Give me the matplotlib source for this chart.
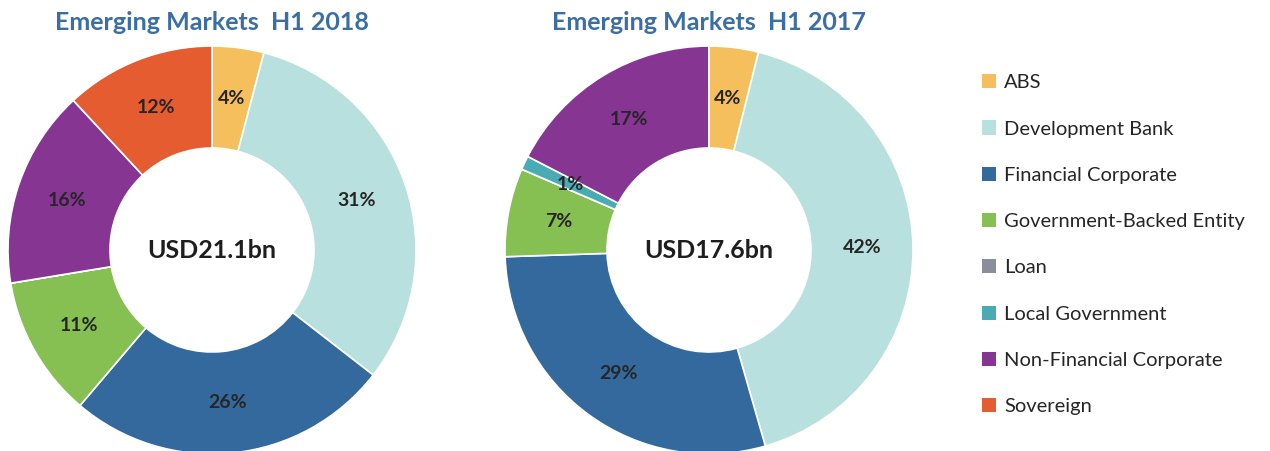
import matplotlib
matplotlib.use('Agg')
import matplotlib.pyplot as plt
from matplotlib.patches import Patch

plt.rcParams['font.family'] = ['Lato', 'DejaVu Sans']

# sectors and shares (%)
sectors = ['ABS', 'Development Bank', 'Financial Corporate', 'Government-Backed Entity',
           'Loan', 'Local Government', 'Non-Financial Corporate', 'Sovereign']
colors = ['#f6bf5d', '#b8e0de', '#34699e', '#86bf52', '#8a8d9c', '#4aabb4', '#863592', '#e55c30']
share_2018 = [4.1, 31.4, 25.7, 11.2, 0, 0, 15.7, 11.9]
share_2017 = [3.9, 41.6, 28.9, 7.0, 0, 1.1, 17.4, 0]
totals = ['USD21.1bn', 'USD17.6bn']
titles = ['Emerging Markets  H1 2018', 'Emerging Markets  H1 2017']

W, H = 1270, 451
fig = plt.figure(figsize=(W / 100, H / 100), dpi=100)


def donut(x0, values, title, total):
    # axes placed in pixels: left x0, top y=46, size 408
    ax = fig.add_axes([x0 / W, (H - 454) / H, 408 / W, 408 / H])
    ax.pie(values, colors=colors, startangle=90, counterclock=False, radius=1,
           wedgeprops=dict(width=0.5, edgecolor='white', linewidth=1.2),
           autopct=lambda p: '%d%%' % round(p) if p > 0.1 else '', pctdistance=0.75,
           textprops=dict(fontsize=14, fontweight='bold', color='#262626'))
    ax.text(0, 0, total, ha='center', va='center', fontsize=18, fontweight='bold', color='#1e1e1e')
    ax.set_xlim(-1, 1)
    ax.set_ylim(-1, 1)
    ax.set_aspect('equal')
    ax.axis('off')
    fig.text((x0 + 204) / W, 1 - 22 / H, title, ha='center', va='center',
             fontsize=18, fontweight='bold', color='#3a6ea5')


donut(8, share_2018, titles[0], totals[0])
donut(505, share_2017, titles[1], totals[1])

handles = [Patch(facecolor=c, edgecolor='none') for c in colors]
fig.legend(handles, sectors, loc='upper left', bbox_to_anchor=(964 / W, 1 - 56 / H),
           frameon=False, fontsize=14.5, handlelength=0.7, handleheight=0.7,
           handletextpad=0.4, labelspacing=1.45, labelcolor='#262626')

fig.savefig('out.png', dpi=100)
